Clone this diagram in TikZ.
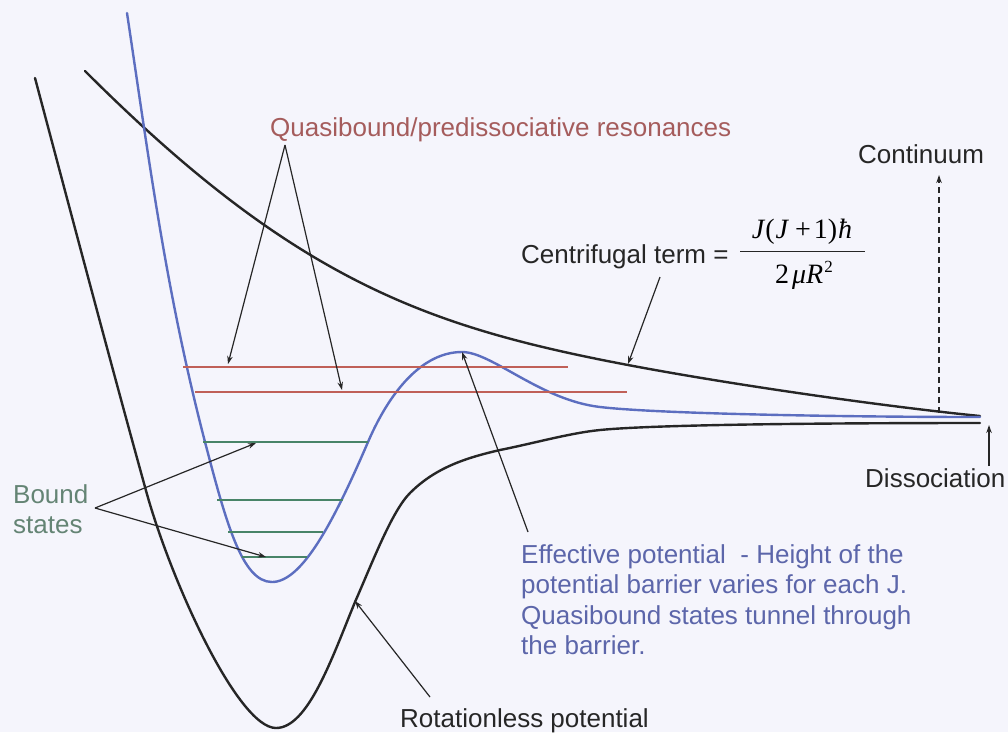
\documentclass[tikz,border=0pt]{standalone}
\usepackage{fontspec}
\setmainfont{Liberation Sans}
\newfontfamily\timesf{Liberation Serif}
\usetikzlibrary{arrows.meta}
\definecolor{bgc}{RGB}{245,245,252}
\definecolor{bluec}{RGB}{92,110,192}
\definecolor{redc}{RGB}{192,96,88}
\definecolor{greenc}{RGB}{72,132,104}
\definecolor{qtextc}{RGB}{165,92,92}
\definecolor{btextc}{RGB}{100,132,116}
\definecolor{etextc}{RGB}{92,102,170}
\definecolor{darkc}{RGB}{38,38,38}
\begin{document}
\begin{tikzpicture}[x=1pt,y=-1pt,
  curve/.style={line width=2.4pt,darkc,line cap=round},
  bluecurve/.style={line width=2.4pt,bluec,line cap=round},
  redlevel/.style={line width=1.4pt,redc},
  greenlevel/.style={line width=1.4pt,greenc},
  pointer/.style={line width=1.2pt,darkc,-{Stealth[length=8pt,width=5.5pt]}},
  lbl/.style={inner sep=0pt,font=\fontsize{26}{30.5}\selectfont},
  mathlbl/.style={inner sep=0pt,font=\timesf\fontsize{28}{30}\selectfont},
]
\fill[bgc] (0,0) rectangle (1008,732);
\useasboundingbox (0,0) rectangle (1008,732);

% centrifugal term
\draw[curve] (85,71) .. controls (295,281) and (428,327) .. (628,365)
  .. controls (728,384) and (880,406) .. (980,416);
% rotationless potential
\draw[curve] (35,78) .. controls (69.6,208) and (109,357) .. (145,487)
  .. controls (170,580) and (238,728) .. (276,728)
  .. controls (308,728) and (332,658) .. (355,602)
  .. controls (373,561) and (392,511) .. (410,493)
  .. controls (435,468) and (465,458) .. (500,450)
  .. controls (535,443) and (570,433) .. (600,430)
  .. controls (650,425) and (800,423) .. (980,423);
% effective potential
\draw[bluecurve] (127,13) .. controls (149.5,163) and (166,292) .. (205,442)
  .. controls (226,522) and (242,582) .. (272,582)
  .. controls (302,582) and (333.6,522) .. (368,442)
  .. controls (389.5,392) and (422,352) .. (462,352)
  .. controls (492,352) and (540,400) .. (600,407)
  .. controls (660,414) and (850,417) .. (980,417);

% quasibound levels
\draw[redlevel] (183,367) -- (568,367);
\draw[redlevel] (195,392) -- (627,392);
% bound levels
\draw[greenlevel] (203,442) -- (368,442);
\draw[greenlevel] (217,500) -- (343,500);
\draw[greenlevel] (228,532) -- (323,532);
\draw[greenlevel] (242,557) -- (307,557);

% points on curves
\coordinate (q1) at (228,364);
\coordinate (q2) at (342,390);
\coordinate (b1) at (256,443);
\coordinate (b2) at (266,557);
\coordinate (peak) at (462,352);
\coordinate (cf) at (628,364);
\coordinate (rot) at (355,601);
\coordinate (dtop) at (989,425);
\coordinate (dbot) at (989,466);
\coordinate (cbase) at (939,413);
\coordinate (ctop) at (939,175);

% labels
\node[lbl,anchor=base west,text=qtextc] (qtext) at (270,136) {Quasibound/predissociative resonances};
\coordinate (qapex) at (285,145);
\node[lbl,anchor=base west,text=darkc] (cont) at (858,163) {Continuum};
\node[lbl,anchor=base west,text=darkc] (cterm) at (521,263) {Centrifugal term =};
\node[mathlbl,anchor=base] (numer) at (802,238)
  {\itshape J\kern1pt\upshape(\kern1pt\itshape J\upshape\hspace{7pt}+\hspace{3pt}1)\kern1pt\itshape ħ};
\coordinate (barl) at (740,251);
\coordinate (barr) at (865,251);
\draw[line width=1pt,darkc] (barl) -- (barr);
\node[mathlbl,anchor=base] (denom) at (804,283)
  {\upshape 2\kern3pt\itshape μR\upshape\raisebox{11pt}{\fontsize{17}{17}\selectfont\kern1pt 2}};
\coordinate (capex) at (660,277);
\node[lbl,anchor=north west,align=left,text=btextc] (btext) at (13,484) {Bound\\states};
\coordinate (bapex) at (95,508);
\node[lbl,anchor=base west,text=darkc] (diss) at (865,487) {Dissociation};
\node[lbl,anchor=north west,align=left,text=etextc] (etext) at (521,544)
  {Effective potential \ - Height of the\\potential barrier varies for each J.\\Quasibound states tunnel through\\the barrier.};
\coordinate (eapex) at (528,532);
\node[lbl,anchor=base west,text=darkc] (rtext) at (400,727) {Rotationless potential};
\coordinate (rapex) at (430,697);

% connectors
\draw[pointer] (qapex) -- (q1);
\draw[pointer] (qapex) -- (q2);
\draw[pointer] (bapex) -- (b1);
\draw[pointer] (bapex) -- (b2);
\draw[pointer] (eapex) -- (peak);
\draw[pointer] (capex) -- (cf);
\draw[pointer] (rapex) -- (rot);
\draw[pointer] (dbot) -- (dtop);
\draw[pointer,dash pattern=on 6pt off 4pt] (cbase) -- (ctop);
\end{tikzpicture}
\end{document}
